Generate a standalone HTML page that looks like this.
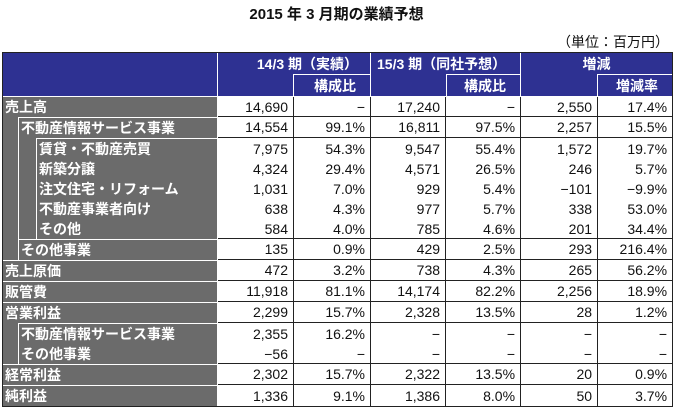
<!DOCTYPE html>
<html><head><meta charset="utf-8"><style>
body{margin:0;width:673px;height:405px;background:#fff;font-family:"Liberation Sans","Noto Sans CJK JP",sans-serif;position:relative;overflow:hidden}
.title{position:absolute;top:3px;left:0;width:673px;text-align:center;font-weight:bold;font-size:15px;color:#111}
.unit{position:absolute;top:32px;right:4px;font-size:14px;color:#111}
table{position:absolute;left:2px;top:52px;width:669px;height:351px;border-collapse:separate;border-spacing:0;border:1px solid #222;table-layout:fixed;font-size:14px}
td{padding:0;height:20px;box-sizing:border-box;white-space:nowrap}
td.v{text-align:right;padding-right:5px;color:#111;border-right:1px solid #222}
td.l{background:#6b6b6b;color:#fff;font-weight:bold;border-right:1px solid #fff;padding:0}
td.l div{height:100%;box-sizing:border-box;padding-left:2px;line-height:20px}
.i1{margin-left:15px;border-left:1px solid #fff}
.i2{margin-left:31px;border-left:1px solid #fff}
tr.b td.v{border-bottom:1px solid #222}
th{background:#2e3192;color:#fff;font-weight:bold;font-size:14px;padding:0;height:21px;border-right:1px solid #fff}
.tw td.l{border-top:1px solid #fff}
</style></head><body>
<div class="title">2015 年 3 月期の業績予想</div>
<div class="unit">（単位：百万円）</div>
<table>
<colgroup><col style="width:215px"><col style="width:76px"><col style="width:77px"><col style="width:75px"><col style="width:75px"><col style="width:77px"><col style="width:74px"></colgroup>
<tr><th rowspan="2" style="border-bottom:1px solid #fff"></th><th colspan="2" style="text-align:right;padding-right:12px;border-bottom:0">14/3 期（実績）</th><th colspan="2" style="text-align:left;padding-left:6px">15/3 期（同社予想）</th><th colspan="2" style="text-align:center;border-right:0">増減</th></tr>
<tr><th style="border-bottom:1px solid #fff"></th><th style="border-top:1px solid #fff;border-bottom:1px solid #fff;text-align:right;padding-right:14px">構成比</th><th style="border-bottom:1px solid #fff;border-right:0"></th><th style="border-top:1px solid #fff;border-left:1px solid #fff;border-bottom:1px solid #fff;text-align:right;padding-right:14px">構成比</th><th style="border-bottom:1px solid #fff"></th><th style="border-top:1px solid #fff;border-bottom:1px solid #fff;border-right:0;text-align:right;padding-right:14px">増減率</th></tr>
<tr class="b"><td class="l"><div>売上高</div></td><td class="v">14,690</td><td class="v">−</td><td class="v">17,240</td><td class="v">−</td><td class="v">2,550</td><td class="v" style="border-right:0">17.4%</td></tr>
<tr class="b"><td class="l"><div class="i1" style="border-top:1px solid #fff">不動産情報サービス事業</div></td><td class="v">14,554</td><td class="v">99.1%</td><td class="v">16,811</td><td class="v">97.5%</td><td class="v">2,257</td><td class="v" style="border-right:0">15.5%</td></tr>
<tr><td class="l"><div class="i1"><div class="i2" style="margin-left:15px;border-top:1px solid #fff">賃貸・不動産売買</div></div></td><td class="v">7,975</td><td class="v">54.3%</td><td class="v">9,547</td><td class="v">55.4%</td><td class="v">1,572</td><td class="v" style="border-right:0">19.7%</td></tr>
<tr><td class="l"><div class="i1"><div class="i2" style="margin-left:15px">新築分譲</div></div></td><td class="v">4,324</td><td class="v">29.4%</td><td class="v">4,571</td><td class="v">26.5%</td><td class="v">246</td><td class="v" style="border-right:0">5.7%</td></tr>
<tr><td class="l"><div class="i1"><div class="i2" style="margin-left:15px">注文住宅・リフォーム</div></div></td><td class="v">1,031</td><td class="v">7.0%</td><td class="v">929</td><td class="v">5.4%</td><td class="v">−101</td><td class="v" style="border-right:0">−9.9%</td></tr>
<tr><td class="l"><div class="i1"><div class="i2" style="margin-left:15px">不動産事業者向け</div></div></td><td class="v">638</td><td class="v">4.3%</td><td class="v">977</td><td class="v">5.7%</td><td class="v">338</td><td class="v" style="border-right:0">53.0%</td></tr>
<tr class="b"><td class="l"><div class="i1"><div class="i2" style="margin-left:15px">その他</div></div></td><td class="v">584</td><td class="v">4.0%</td><td class="v">785</td><td class="v">4.6%</td><td class="v">201</td><td class="v" style="border-right:0">34.4%</td></tr>
<tr class="b"><td class="l"><div class="i1" style="border-top:1px solid #fff">その他事業</div></td><td class="v">135</td><td class="v">0.9%</td><td class="v">429</td><td class="v">2.5%</td><td class="v">293</td><td class="v" style="border-right:0">216.4%</td></tr>
<tr class="b tw"><td class="l"><div>売上原価</div></td><td class="v">472</td><td class="v">3.2%</td><td class="v">738</td><td class="v">4.3%</td><td class="v">265</td><td class="v" style="border-right:0">56.2%</td></tr>
<tr class="b tw"><td class="l"><div>販管費</div></td><td class="v">11,918</td><td class="v">81.1%</td><td class="v">14,174</td><td class="v">82.2%</td><td class="v">2,256</td><td class="v" style="border-right:0">18.9%</td></tr>
<tr class="b tw"><td class="l"><div>営業利益</div></td><td class="v">2,299</td><td class="v">15.7%</td><td class="v">2,328</td><td class="v">13.5%</td><td class="v">28</td><td class="v" style="border-right:0">1.2%</td></tr>
<tr><td class="l"><div class="i1" style="border-top:1px solid #fff">不動産情報サービス事業</div></td><td class="v">2,355</td><td class="v">16.2%</td><td class="v">−</td><td class="v">−</td><td class="v">−</td><td class="v" style="border-right:0">−</td></tr>
<tr class="b"><td class="l"><div class="i1">その他事業</div></td><td class="v">−56</td><td class="v">−</td><td class="v">−</td><td class="v">−</td><td class="v">−</td><td class="v" style="border-right:0">−</td></tr>
<tr class="b tw"><td class="l"><div>経常利益</div></td><td class="v">2,302</td><td class="v">15.7%</td><td class="v">2,322</td><td class="v">13.5%</td><td class="v">20</td><td class="v" style="border-right:0">0.9%</td></tr>
<tr class="tw"><td class="l"><div>純利益</div></td><td class="v">1,336</td><td class="v">9.1%</td><td class="v">1,386</td><td class="v">8.0%</td><td class="v">50</td><td class="v" style="border-right:0">3.7%</td></tr>
</table>
</body></html>
